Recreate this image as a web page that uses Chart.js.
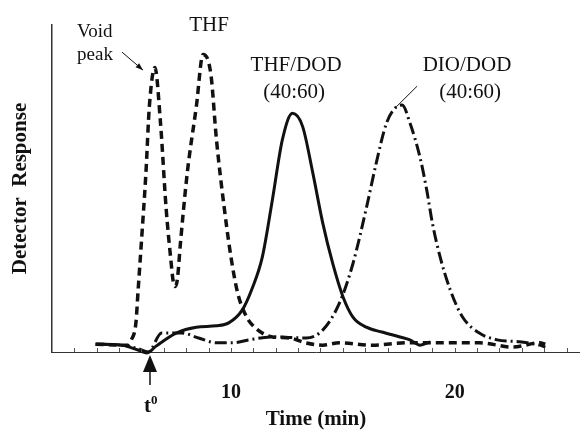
<!DOCTYPE html>
<html>
<head>
<meta charset="utf-8">
<script src="https://cdn.jsdelivr.net/npm/chart.js@4.4.0/dist/chart.umd.min.js"></script>
<style>
    html, body { margin: 0; padding: 0; background: #fff; }
</style>
</head>
<body>
<canvas id="chart" width="580" height="430"></canvas>
<script>
// DATA (time in min, detector response in arbitrary units)
const thfTime = [3.95, 5.1, 5.4, 5.55, 5.75, 5.85, 6.0, 6.2, 6.35, 6.6, 6.85, 7.1, 7.3, 7.42, 7.5, 7.6, 7.75, 8.05, 8.45, 8.75, 9.1, 9.35, 9.7, 10.0, 10.3, 10.7, 11.1, 11.85, 12.6, 13.35, 14.1, 14.85, 16.3, 17.85, 19.65, 21.1, 22.6, 23.8, 24.05];
const thfResp = [2.4, 2.1, 2.1, 3.7, 8.9, 19, 34, 55, 75, 87, 70, 44, 29, 21.5, 20, 22, 34, 55, 75, 91, 85, 65, 44, 29, 18, 10.7, 7.3, 4.6, 4.3, 2.8, 2.1, 2.8, 2.1, 2.8, 2.8, 2.8, 1.5, 2.8, 2.4];

const thfDodTime = [3.95, 5.1, 5.85, 6.25, 6.65, 7.55, 8.45, 9.35, 9.9, 10.5, 10.95, 11.4, 11.85, 12.3, 12.75, 13.2, 13.65, 14.1, 14.55, 15.0, 15.45, 16.05, 16.75, 17.55, 18.0, 18.45, 18.9];
const thfDodResp = [2.4, 2.1, 0.6, -0.3, 1.8, 5.8, 7.6, 8.0, 8.9, 12.8, 19.5, 29, 46.5, 65, 73, 69, 55, 39.5, 27, 17, 10.7, 7.6, 6.1, 4.6, 3.7, 2.1, 3.1];

const dioDodTime = [3.95, 5.1, 5.85, 6.3, 6.9, 7.8, 8.55, 9.35, 10.05, 10.8, 11.85, 13.35, 14.1, 14.85, 15.45, 16.05, 16.5, 16.95, 17.4, 17.65, 18.0, 18.45, 18.75, 19.0, 19.35, 19.8, 20.35, 21.1, 21.9, 22.9, 23.8, 24.05];
const dioDodResp = [2.4, 2.1, 1.0, 0.0, 5.8, 5.8, 4.3, 2.8, 2.8, 3.7, 4.6, 4.3, 6.7, 15, 27, 44, 58, 70, 75, 75.5, 70, 59.5, 49.5, 39.5, 29, 19, 10.7, 5.8, 3.7, 3.1, 2.1, 1.5];

const tickLabels = [10, 20];
const minorTicks = [3, 4, 5, 6, 7, 8, 9, 10, 11, 12, 13, 14, 15, 16, 17, 18, 19, 20, 21, 22, 23, 24, 25];
const t0 = 6.38;

const SERIF = '"Liberation Serif", "Times New Roman", serif';

const toPoints = (xs, ys) => xs.map((x, i) => ({ x: x, y: ys[i] }));

const lineStyle = {
    borderColor: "#111",
    pointRadius: 0,
    cubicInterpolationMode: "monotone",
    clip: false,
    fill: false,
};

// labels, arrows, minor ticks
const marks = {
    id: "marks",
    afterDraw(chart) {
        const { ctx, chartArea, scales: { x, y } } = chart;
        const bottom = chartArea.bottom;
        ctx.save();

        // minor ticks pointing up
        ctx.strokeStyle = "#555";
        ctx.lineWidth = 1;
        minorTicks.forEach((t) => {
            const px = Math.round(x.getPixelForValue(t)) + 0.5;
            ctx.beginPath();
            ctx.moveTo(px, bottom);
            ctx.lineTo(px, bottom - 4);
            ctx.stroke();
        });

        ctx.fillStyle = "#111";
        ctx.textBaseline = "alphabetic";

        const text = (str, t, v, size, align) => {
            ctx.font = size + "px " + SERIF;
            ctx.textAlign = align || "center";
            ctx.fillText(str, x.getPixelForValue(t), y.getPixelForValue(v));
        };
        text("Void", 3.12, 96.3, 19, "left");
        text("peak", 3.12, 89.3, 19, "left");
        text("THF", 9.02, 98.2, 21);
        text("THF/DOD", 12.91, 85.9, 21);
        text("(40:60)", 12.82, 77.7, 21);
        text("DIO/DOD", 20.55, 85.9, 21);
        text("(40:60)", 20.69, 77.7, 21);

        // arrow to void peak
        const ax0 = x.getPixelForValue(5.13), ay0 = y.getPixelForValue(91.7);
        const ax1 = x.getPixelForValue(6.07), ay1 = y.getPixelForValue(86.2);
        ctx.strokeStyle = "#111";
        ctx.lineWidth = 1;
        ctx.beginPath();
        ctx.moveTo(ax0, ay0);
        ctx.lineTo(ax1, ay1);
        ctx.stroke();
        const ang = Math.atan2(ay1 - ay0, ax1 - ax0);
        ctx.beginPath();
        ctx.moveTo(ax1, ay1);
        ctx.lineTo(ax1 - 8 * Math.cos(ang - 0.35), ay1 - 8 * Math.sin(ang - 0.35));
        ctx.lineTo(ax1 - 8 * Math.cos(ang + 0.35), ay1 - 8 * Math.sin(ang + 0.35));
        ctx.closePath();
        ctx.fill();

        // leader line to DIO/DOD peak
        ctx.beginPath();
        ctx.moveTo(x.getPixelForValue(18.32), y.getPixelForValue(81.3));
        ctx.lineTo(x.getPixelForValue(17.38), y.getPixelForValue(74.9));
        ctx.stroke();

        // t0 marker below the axis
        const tx = x.getPixelForValue(t0);
        ctx.beginPath();
        ctx.moveTo(tx, bottom + 3);
        ctx.lineTo(tx - 7, bottom + 20);
        ctx.lineTo(tx + 7, bottom + 20);
        ctx.closePath();
        ctx.fill();
        ctx.lineWidth = 1.5;
        ctx.beginPath();
        ctx.moveTo(tx, bottom + 20);
        ctx.lineTo(tx, bottom + 33);
        ctx.stroke();
        ctx.font = "bold 21px " + SERIF;
        ctx.textAlign = "right";
        ctx.fillText("t", tx + 1, bottom + 60);
        ctx.font = "bold 13px " + SERIF;
        ctx.textAlign = "left";
        ctx.fillText("0", tx + 1, bottom + 52);

        ctx.restore();
    },
};

const ctx = document.getElementById("chart");

const chart = new Chart(ctx, {
    type: "line",
    data: {
        datasets: [
            {
                ...lineStyle,
                label: "THF",
                data: toPoints(thfTime, thfResp),
                borderWidth: 3.5,
                borderDash: [8, 5],
            },
            {
                ...lineStyle,
                label: "THF/DOD (40:60)",
                data: toPoints(thfDodTime, thfDodResp),
                borderWidth: 3,
            },
            {
                ...lineStyle,
                label: "DIO/DOD (40:60)",
                data: toPoints(dioDodTime, dioDodResp),
                borderWidth: 3,
                borderDash: [12, 4, 2, 4],
            },
        ],
    },
    options: {
        responsive: false,
        animation: false,
        layout: { padding: { top: 25, left: 0, right: 0, bottom: 0 } },
        plugins: {
            legend: { display: false },
            tooltip: { enabled: false },
        },
        scales: {
            x: {
                type: "linear",
                min: 2,
                max: 25.6,
                grid: { display: false },
                border: { display: true, color: "#333", width: 1 },
                afterBuildTicks: (s) => {
                    s.ticks = tickLabels.map((v) => ({ value: v }));
                },
                afterFit: (s) => {
                    s.height = 78;
                },
                ticks: {
                    color: "#111",
                    padding: 21,
                    maxRotation: 0,
                    font: { family: SERIF, size: 20, weight: "bold", lineHeight: 1.2 },
                },
                title: {
                    display: true,
                    text: "Time (min)",
                    color: "#111",
                    padding: 0,
                    font: { family: SERIF, size: 21, weight: "bold", lineHeight: 1 },
                },
            },
            y: {
                min: 0,
                max: 100,
                grid: { display: false },
                border: { display: true, color: "#333", width: 1.5 },
                ticks: { display: false },
                afterFit: (s) => {
                    s.width = 52;
                },
                title: {
                    display: true,
                    text: "Detector  Response",
                    color: "#111",
                    padding: { top: 10, bottom: 0 },
                    font: { family: SERIF, size: 21, weight: "bold", lineHeight: 1 },
                },
            },
        },
    },
    plugins: [marks],
});
</script>
</body>
</html>
